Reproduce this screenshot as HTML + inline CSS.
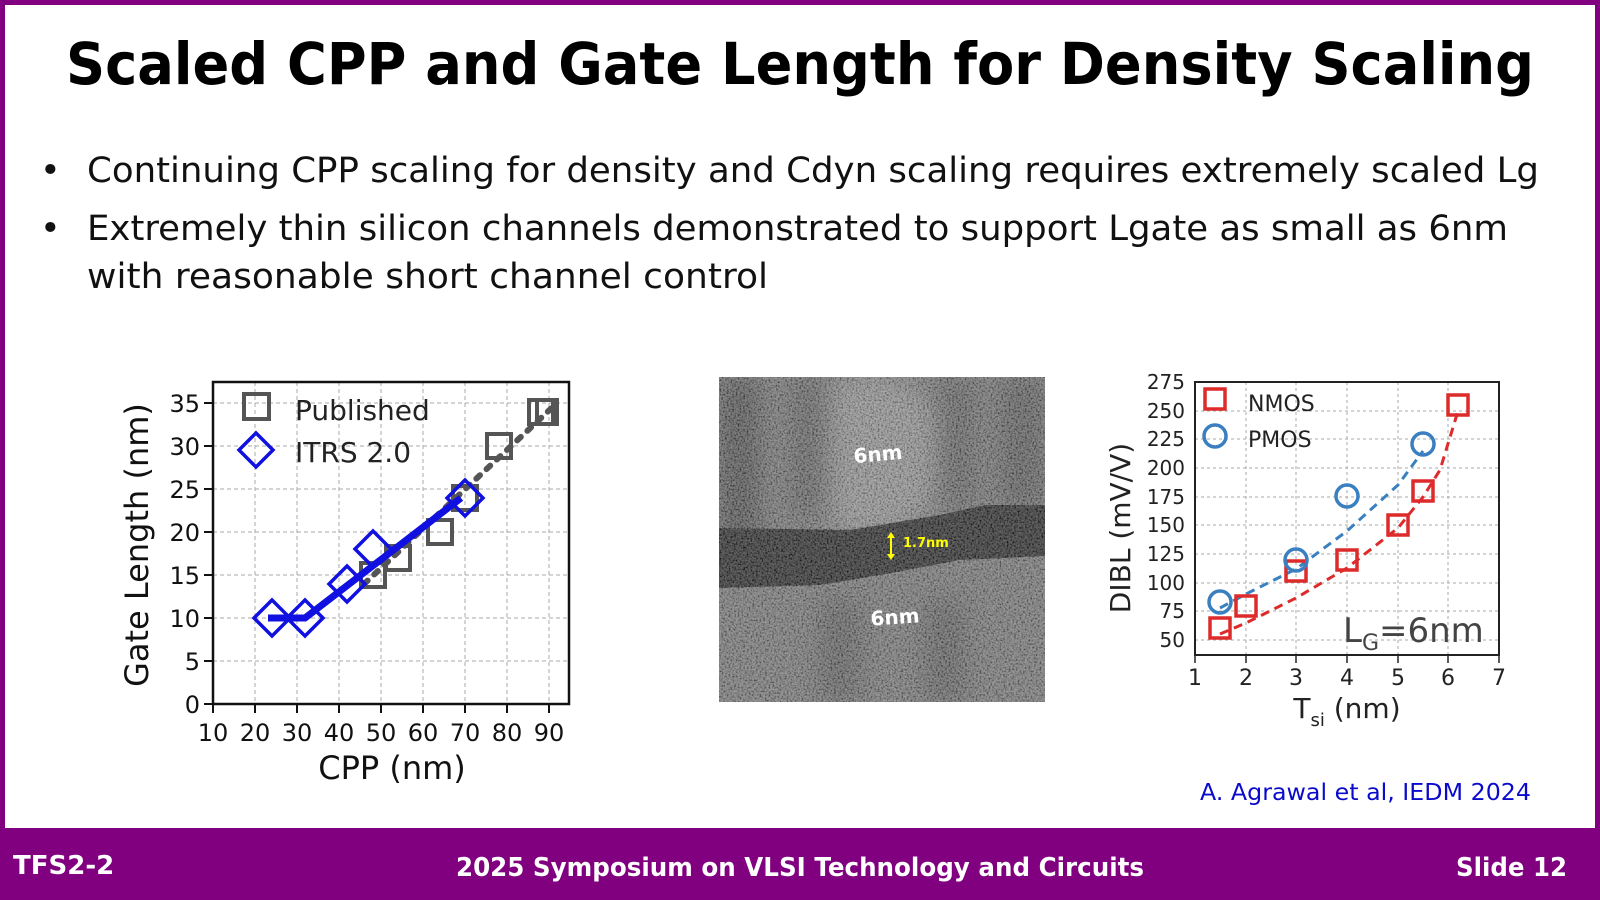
<!DOCTYPE html>
<html><head><meta charset="utf-8"><style>
html,body{margin:0;padding:0;background:#fff}
svg{display:block}
text{font-family:"DejaVu Sans","Liberation Sans",sans-serif}
</style></head><body>
<svg width="1600" height="900" viewBox="0 0 1600 900" xmlns="http://www.w3.org/2000/svg">
<defs>
<filter id="noise" x="0" y="0" width="100%" height="100%">
<feTurbulence type="fractalNoise" baseFrequency="0.55" numOctaves="2" seed="3"/>
<feColorMatrix type="matrix" values="2.2 0 0 0 -0.6  2.2 0 0 0 -0.6  2.2 0 0 0 -0.6  0 0 0 0 0.3"/>
</filter>
<filter id="blur"><feGaussianBlur stdDeviation="12"/></filter>
<clipPath id="tem"><rect x="719" y="377" width="326" height="325"/></clipPath>
</defs>
<rect x="0" y="0" width="1600" height="900" fill="#800080"/>
<rect x="5" y="5" width="1590" height="823" fill="#fff"/>
<text x="800" y="84" font-size="58" font-weight="bold" text-anchor="middle" textLength="1468" lengthAdjust="spacingAndGlyphs">Scaled CPP and Gate Length for Density Scaling</text>
<g font-size="35" fill="#111">
<text x="40" y="182">•</text>
<text x="87" y="182" textLength="1452" lengthAdjust="spacingAndGlyphs">Continuing CPP scaling for density and Cdyn scaling requires extremely scaled Lg</text>
<text x="40" y="240">•</text>
<text x="87" y="240" textLength="1421" lengthAdjust="spacingAndGlyphs">Extremely thin silicon channels demonstrated to support Lgate as small as 6nm</text>
<text x="87" y="288" textLength="681" lengthAdjust="spacingAndGlyphs">with reasonable short channel control</text>
</g>

<!-- LEFT CHART -->
<g stroke="#aaa" stroke-width="1" stroke-dasharray="4,3">
<line x1="255" y1="382" x2="255" y2="704"/><line x1="297" y1="382" x2="297" y2="704"/><line x1="339" y1="382" x2="339" y2="704"/><line x1="381" y1="382" x2="381" y2="704"/><line x1="423" y1="382" x2="423" y2="704"/><line x1="465" y1="382" x2="465" y2="704"/><line x1="507" y1="382" x2="507" y2="704"/><line x1="549" y1="382" x2="549" y2="704"/>
<line x1="213" y1="661" x2="569" y2="661"/><line x1="213" y1="618" x2="569" y2="618"/><line x1="213" y1="575" x2="569" y2="575"/><line x1="213" y1="532" x2="569" y2="532"/><line x1="213" y1="489" x2="569" y2="489"/><line x1="213" y1="446" x2="569" y2="446"/><line x1="213" y1="403" x2="569" y2="403"/>
</g>
<rect x="213" y="382" width="356" height="322" fill="none" stroke="#111" stroke-width="2.5"/>
<g stroke="#111" stroke-width="2">
<line x1="213" y1="704" x2="213" y2="713"/><line x1="255" y1="704" x2="255" y2="713"/><line x1="297" y1="704" x2="297" y2="713"/><line x1="339" y1="704" x2="339" y2="713"/><line x1="381" y1="704" x2="381" y2="713"/><line x1="423" y1="704" x2="423" y2="713"/><line x1="465" y1="704" x2="465" y2="713"/><line x1="507" y1="704" x2="507" y2="713"/><line x1="549" y1="704" x2="549" y2="713"/>
<line x1="204" y1="704" x2="213" y2="704"/><line x1="204" y1="661" x2="213" y2="661"/><line x1="204" y1="618" x2="213" y2="618"/><line x1="204" y1="575" x2="213" y2="575"/><line x1="204" y1="532" x2="213" y2="532"/><line x1="204" y1="489" x2="213" y2="489"/><line x1="204" y1="446" x2="213" y2="446"/><line x1="204" y1="403" x2="213" y2="403"/>
</g>
<g font-size="24" fill="#111" text-anchor="end">
<text x="200" y="713">0</text><text x="200" y="670">5</text><text x="200" y="627">10</text><text x="200" y="584">15</text><text x="200" y="541">20</text><text x="200" y="498">25</text><text x="200" y="455">30</text><text x="200" y="412">35</text>
</g>
<g font-size="24" fill="#111" text-anchor="middle">
<text x="213" y="741">10</text><text x="255" y="741">20</text><text x="297" y="741">30</text><text x="339" y="741">40</text><text x="381" y="741">50</text><text x="423" y="741">60</text><text x="465" y="741">70</text><text x="507" y="741">80</text><text x="549" y="741">90</text>
</g>
<text x="392" y="779" font-size="32" text-anchor="middle" fill="#111">CPP (nm)</text>
<text transform="translate(148,545) rotate(-90)" font-size="32" text-anchor="middle" fill="#111">Gate Length (nm)</text>
<line x1="364" y1="584" x2="557" y2="403" stroke="#555" stroke-width="6" stroke-dasharray="5,9" stroke-linecap="round"/>
<g fill="none" stroke="#555" stroke-width="4">
<rect x="361" y="563" width="24" height="24"/><rect x="386" y="546" width="24" height="24"/><rect x="428" y="520" width="24" height="24"/><rect x="453" y="486" width="24" height="24"/><rect x="487" y="434" width="24" height="24"/><rect x="529" y="400" width="24" height="24"/><rect x="537" y="400" width="20" height="24"/>
<rect x="244" y="394" width="25" height="25"/>
</g>
<polyline points="268,618 305,618 461,498" fill="none" stroke="#1010e0" stroke-width="7"/>
<g fill="none" stroke="#1010e0" stroke-width="3.5">
<polygon points="272,600 290,618 272,636 254,618"/><polygon points="305,600 323,618 305,636 287,618"/><polygon points="347,566 365,584 347,602 329,584"/><polygon points="373,531 391,549 373,567 355,549"/><polygon points="465,480 483,498 465,516 447,498"/>
<polygon points="256,433 273,450 256,467 239,450"/>
</g>
<text x="295" y="420" font-size="28" fill="#222">Published</text>
<text x="295" y="462" font-size="28" fill="#222">ITRS 2.0</text>

<!-- TEM image -->
<g clip-path="url(#tem)">
<rect x="719" y="377" width="326" height="325" fill="#6e6e6e"/>
<g filter="url(#blur)">
<ellipse cx="870" cy="455" rx="75" ry="80" fill="#8a8a8a"/>
<rect x="719" y="377" width="40" height="170" fill="#4a4a4a"/>
<rect x="1000" y="377" width="45" height="130" fill="#555"/>
<rect x="790" y="377" width="40" height="140" fill="#5a5a5a"/>
<rect x="935" y="377" width="40" height="130" fill="#5a5a5a"/>
<rect x="820" y="600" width="40" height="102" fill="#585858"/>
<rect x="925" y="600" width="40" height="102" fill="#585858"/>
</g>
<polygon points="719,528 850,530 940,515 985,505 1045,505 1045,556 960,560 880,575 820,585 719,588" fill="#232323"/>
<rect x="719" y="377" width="326" height="325" filter="url(#noise)"/>
<text x="878" y="461" font-size="20" font-weight="bold" fill="#fff" text-anchor="middle" transform="rotate(-5 878 455)">6nm</text>
<text x="895" y="624" font-size="20" font-weight="bold" fill="#fff" text-anchor="middle" transform="rotate(-4 895 618)">6nm</text>
<line x1="891" y1="534" x2="891" y2="558" stroke="#ff0" stroke-width="2"/>
<polygon points="887,538 891,532 895,538" fill="#ff0"/><polygon points="887,554 891,560 895,554" fill="#ff0"/>
<text x="903" y="547" font-size="13" font-weight="bold" fill="#ff0">1.7nm</text>
</g>

<!-- RIGHT CHART -->
<g stroke="#aaa" stroke-width="1" stroke-dasharray="3,3">
<line x1="1246" y1="382" x2="1246" y2="655"/><line x1="1296" y1="382" x2="1296" y2="655"/><line x1="1347" y1="382" x2="1347" y2="655"/><line x1="1398" y1="382" x2="1398" y2="655"/><line x1="1448" y1="382" x2="1448" y2="655"/>
<line x1="1195" y1="640" x2="1499" y2="640"/><line x1="1195" y1="611" x2="1499" y2="611"/><line x1="1195" y1="583" x2="1499" y2="583"/><line x1="1195" y1="554" x2="1499" y2="554"/><line x1="1195" y1="525" x2="1499" y2="525"/><line x1="1195" y1="497" x2="1499" y2="497"/><line x1="1195" y1="468" x2="1499" y2="468"/><line x1="1195" y1="439" x2="1499" y2="439"/><line x1="1195" y1="411" x2="1499" y2="411"/>
</g>
<rect x="1195" y="382" width="304" height="273" fill="none" stroke="#222" stroke-width="2"/>
<g stroke="#222" stroke-width="1.5">
<line x1="1195" y1="655" x2="1195" y2="663"/><line x1="1246" y1="655" x2="1246" y2="663"/><line x1="1296" y1="655" x2="1296" y2="663"/><line x1="1347" y1="655" x2="1347" y2="663"/><line x1="1398" y1="655" x2="1398" y2="663"/><line x1="1448" y1="655" x2="1448" y2="663"/><line x1="1499" y1="655" x2="1499" y2="663"/>
</g>
<g font-size="20" fill="#222" text-anchor="end">
<text x="1185" y="647">50</text><text x="1185" y="618">75</text><text x="1185" y="590">100</text><text x="1185" y="561">125</text><text x="1185" y="532">150</text><text x="1185" y="504">175</text><text x="1185" y="475">200</text><text x="1185" y="446">225</text><text x="1185" y="418">250</text><text x="1185" y="389">275</text>
</g>
<g font-size="22" fill="#222" text-anchor="middle">
<text x="1195" y="685">1</text><text x="1246" y="685">2</text><text x="1296" y="685">3</text><text x="1347" y="685">4</text><text x="1398" y="685">5</text><text x="1448" y="685">6</text><text x="1499" y="685">7</text>
</g>
<text x="1347" y="718" font-size="28" text-anchor="middle" fill="#222">T<tspan font-size="18" dy="8">si</tspan><tspan dy="-8"> (nm)</tspan></text>
<text transform="translate(1130,528) rotate(-90)" font-size="28" text-anchor="middle" fill="#222">DIBL (mV/V)</text>
<text x="1343" y="642" font-size="34" fill="#444">L<tspan font-size="22" dy="8">G</tspan><tspan dy="-8">=6nm</tspan></text>
<polyline points="1220,634 1246,623 1296,598 1347,568 1398,528 1423,497 1440,470 1458,411" fill="none" stroke="#dd2a2a" stroke-width="3" stroke-dasharray="9,6"/>
<polyline points="1220,608 1246,594 1296,569 1347,531 1398,485 1423,451" fill="none" stroke="#3a80c0" stroke-width="3" stroke-dasharray="9,6"/>
<g fill="none" stroke="#dd2a2a" stroke-width="3.5">
<rect x="1210" y="618" width="20" height="20"/><rect x="1236" y="596" width="20" height="20"/><rect x="1286" y="561" width="20" height="20"/><rect x="1337" y="550" width="20" height="20"/><rect x="1388" y="515" width="20" height="20"/><rect x="1413" y="481" width="20" height="20"/><rect x="1448" y="395" width="20" height="20"/>
<rect x="1205" y="389" width="20" height="20"/>
</g>
<g fill="none" stroke="#3a80c0" stroke-width="3.5">
<circle cx="1220" cy="602" r="11"/><circle cx="1296" cy="560" r="11"/><circle cx="1347" cy="496" r="11"/><circle cx="1423" cy="444" r="11"/>
<circle cx="1215" cy="436" r="11"/>
</g>
<text x="1248" y="411" font-size="22" fill="#222">NMOS</text>
<text x="1248" y="447" font-size="22" fill="#222">PMOS</text>
<text x="1200" y="800" font-size="23" fill="#0a0acc" textLength="331" lengthAdjust="spacingAndGlyphs">A. Agrawal et al, IEDM 2024</text>

<!-- footer -->
<g font-size="26" font-weight="bold" fill="#fff">
<text x="13" y="874">TFS2-2</text>
<text x="800" y="876" text-anchor="middle" textLength="688" lengthAdjust="spacingAndGlyphs">2025 Symposium on VLSI Technology and Circuits</text>
<text x="1456" y="876" textLength="111" lengthAdjust="spacingAndGlyphs">Slide 12</text>
</g>
</svg>
</body></html>
